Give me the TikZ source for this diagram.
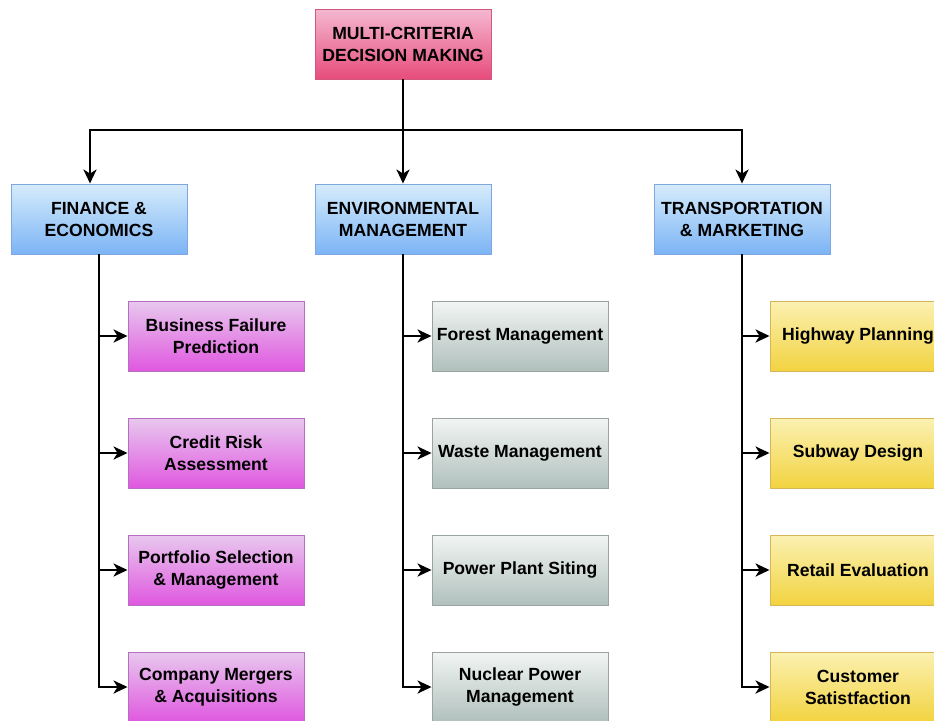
\documentclass[tikz,border=0pt]{standalone}
\usepackage{fontspec}
\setmainfont{Liberation Sans}
\usetikzlibrary{arrows.meta}

\begin{document}
\begin{tikzpicture}[x=1pt, y=-1pt,
  every node/.style={rectangle, minimum width=176pt, minimum height=70pt, inner sep=1pt,
    align=center, line width=0.9pt, font=\fontsize{17.6}{22}\selectfont\bfseries},
  root/.style={draw={rgb,255:red,208;green,88;blue,126}, top color={rgb,255:red,244;green,184;blue,208}, bottom color={rgb,255:red,231;green,76;blue,124}},
  cat/.style={draw={rgb,255:red,126;green,166;blue,224}, top color={rgb,255:red,214;green,236;blue,251}, bottom color={rgb,255:red,124;green,180;blue,245}},
  fin/.style={draw={rgb,255:red,181;green,111;blue,192}, top color={rgb,255:red,232;green,200;blue,238}, bottom color={rgb,255:red,224;green,88;blue,224}},
  env/.style={draw={rgb,255:red,154;green,163;blue,160}, top color={rgb,255:red,242;green,245;blue,244}, bottom color={rgb,255:red,176;green,192;blue,188}},
  tra/.style={draw={rgb,255:red,214;green,182;blue,86}, top color={rgb,255:red,251;green,241;blue,178}, bottom color={rgb,255:red,242;green,211;blue,64}},
  arr/.style={line width=2.6pt, -{Stealth[length=14pt,width=13pt,inset=4pt]}}]
  \useasboundingbox (0,0) rectangle (934,720);
  \clip (0,0) rectangle (934,720);
  % top and categories
  \node[root] (mcdm) at (403,44) {MULTI-CRITERIA\\DECISION MAKING};
  \node[cat] (fe) at (99,219) {FINANCE \&\\ECONOMICS};
  \node[cat] (em) at (403,219) {ENVIRONMENTAL\\MANAGEMENT};
  \node[cat] (tm) at (742,219) {TRANSPORTATION\\\& MARKETING};
  % finance
  \node[fin] (f1) at (216,336) {Business Failure\\Prediction};
  \node[fin] (f2) at (216,453) {Credit Risk\\Assessment};
  \node[fin] (f3) at (216,570) {Portfolio Selection\\\& Management};
  \node[fin] (f4) at (216,687) {Company Mergers\\\& Acquisitions};
  % environment
  \node[env] (e1) at (520,336) {Forest Management};
  \node[env] (e2) at (520,453) {Waste Management};
  \node[env] (e3) at (520,570) {Power Plant Siting};
  \node[env] (e4) at (520,687) {Nuclear Power\\Management};
  % transport
  \node[tra] (t1) at (858,336) {Highway Planning};
  \node[tra] (t2) at (858,453) {Subway Design};
  \node[tra] (t3) at (858,570) {Retail Evaluation};
  \node[tra] (t4) at (858,687) {Customer\\Satistfaction};
  \coordinate (fork) at (403,130);
  \draw[line width=2.6pt] (mcdm.south) -- (fork);
  \draw[arr] (fork) -| ([xshift=-9]fe.north);
  \draw[arr] (fork) -- (em.north);
  \draw[arr] (fork) -| (tm.north);
  \foreach \i in {1,2,3,4} {
    \draw[arr] (fe.south) |- (f\i.west);
    \draw[arr] (em.south) |- (e\i.west);
    \draw[arr] (tm.south) |- (t\i.west);
  }
\end{tikzpicture}
\end{document}
